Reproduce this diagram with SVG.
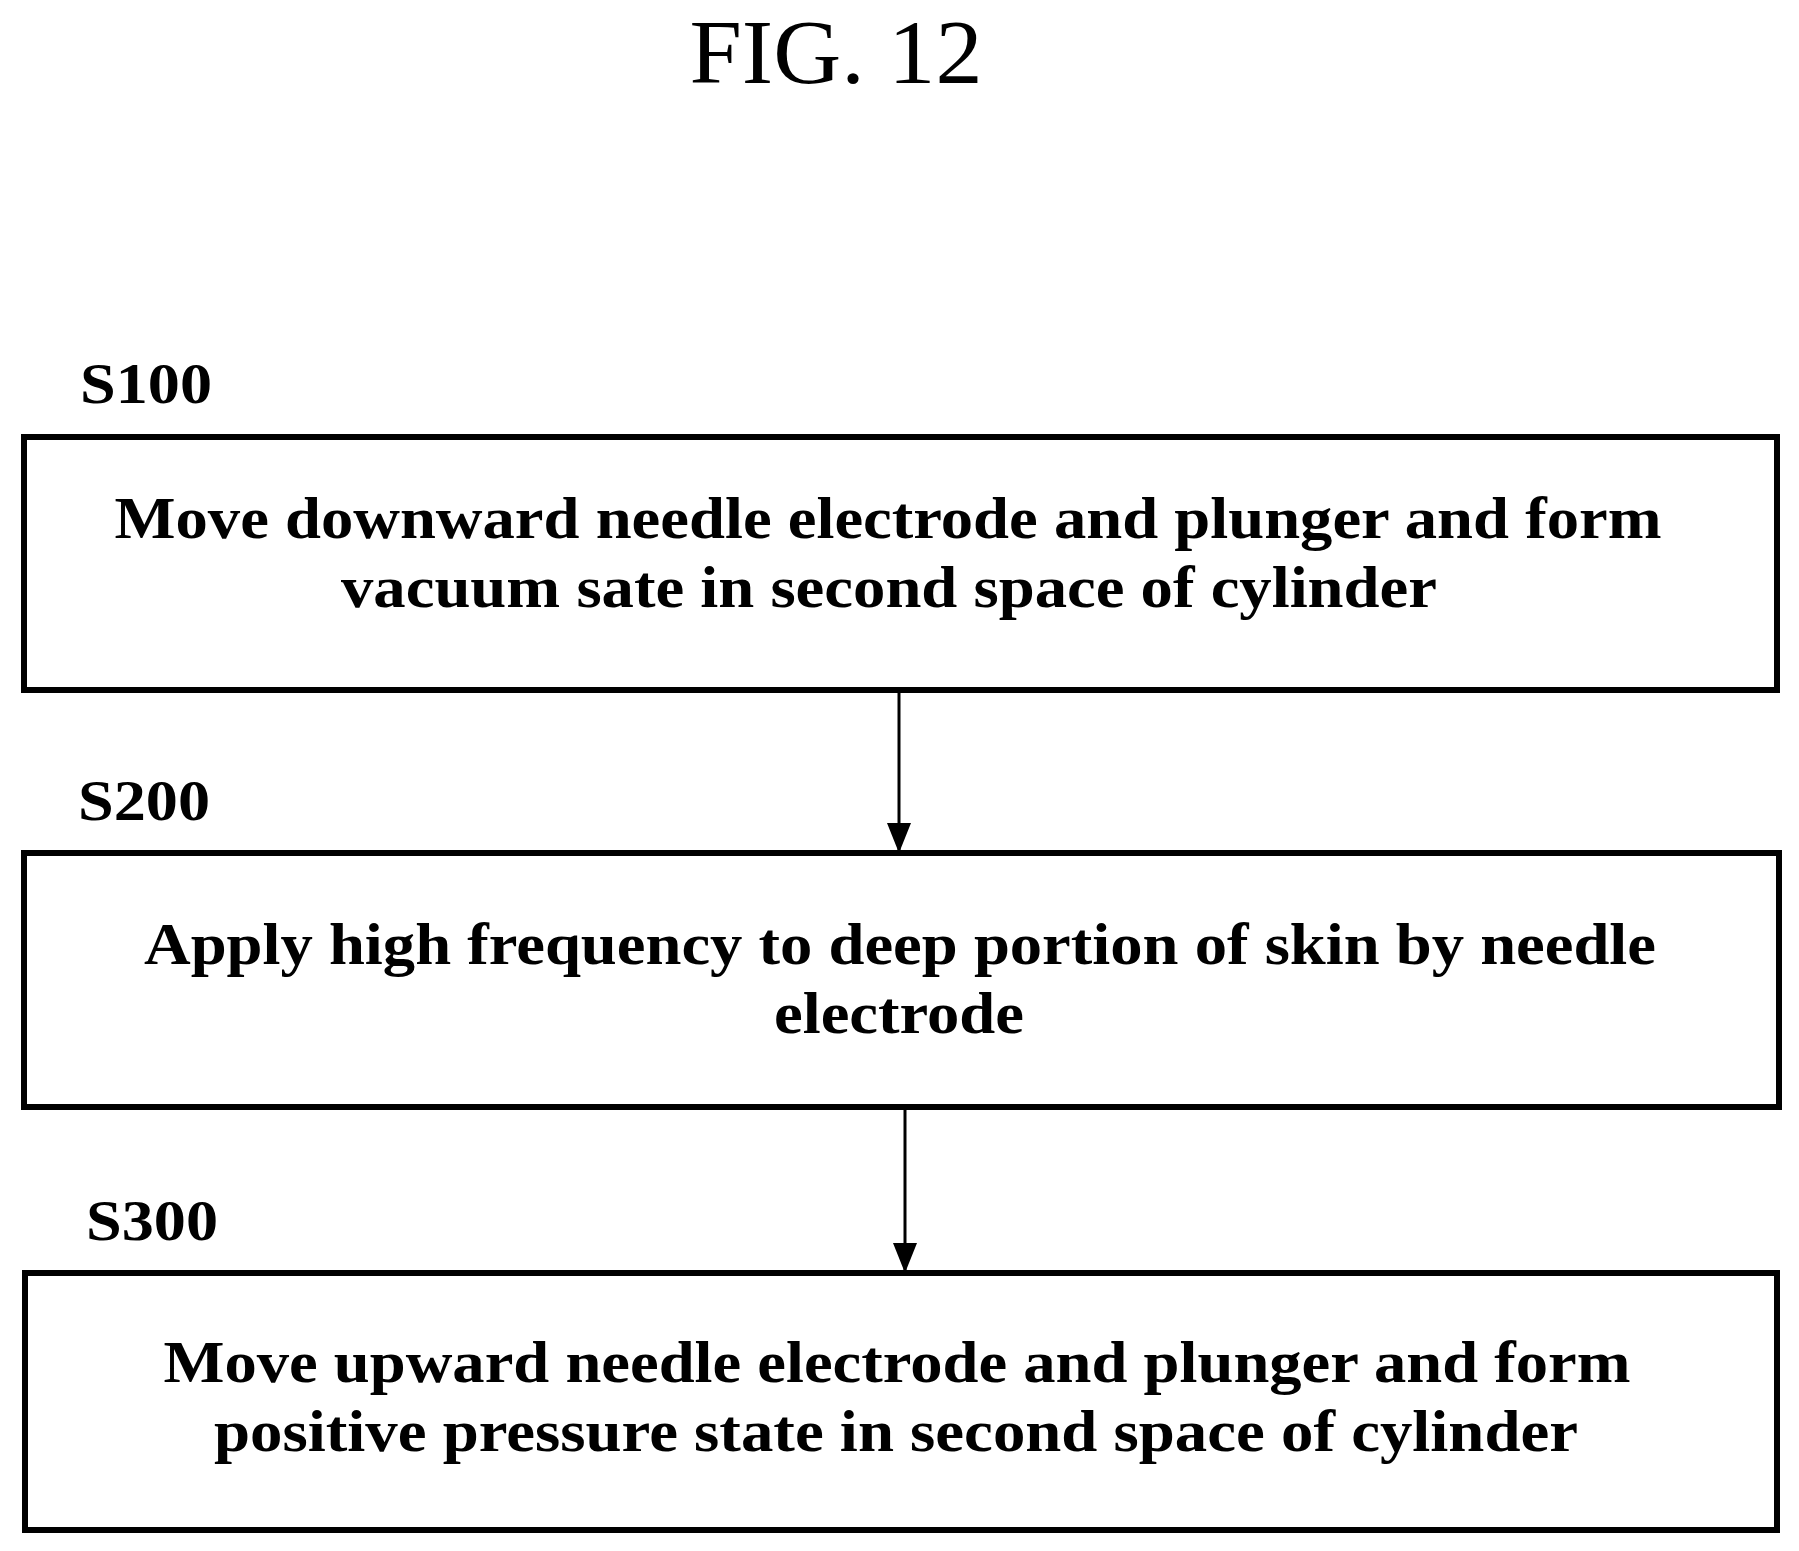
<svg xmlns="http://www.w3.org/2000/svg" width="1799" height="1551" viewBox="0 0 1799 1551">
<style>
text{font-family:"Liberation Serif","Times New Roman",serif;font-weight:bold;fill:#000}
.t{font-size:60px;text-anchor:middle}
.l{font-size:58px}
.b{fill:#fff;stroke:#000;stroke-width:6}
.c{stroke:#000;stroke-width:3;fill:none}
</style>
<defs><marker id="a" markerWidth="10" markerHeight="8" refX="9" refY="4" orient="auto" markerUnits="strokeWidth"><path d="M0,0L10,4L0,8Z" fill="#000"/></marker></defs>
<rect width="1799" height="1551" fill="#fff"/>
<text x="836" y="83" textLength="293" lengthAdjust="spacingAndGlyphs" style="font-size:92px;font-weight:normal;text-anchor:middle">FIG. 12</text>
<g id="s100"><text class="l" x="80" y="403" textLength="132" lengthAdjust="spacingAndGlyphs">S100</text><rect class="b" x="24" y="437" width="1753" height="253"/>
<text class="t" x="888" y="538" textLength="1547" lengthAdjust="spacingAndGlyphs">Move downward needle electrode and plunger and form</text><text class="t" x="889" y="607" textLength="1096" lengthAdjust="spacingAndGlyphs">vacuum sate in second space of cylinder</text></g>
<g id="s200"><text class="l" x="78" y="820" textLength="132" lengthAdjust="spacingAndGlyphs">S200</text><rect class="b" x="24" y="853" width="1755" height="254"/>
<text class="t" x="900" y="964" textLength="1512" lengthAdjust="spacingAndGlyphs">Apply high frequency to deep portion of skin by needle</text><text class="t" x="899" y="1033" textLength="250" lengthAdjust="spacingAndGlyphs">electrode</text></g>
<g id="s300"><text class="l" x="86" y="1240" textLength="132" lengthAdjust="spacingAndGlyphs">S300</text><rect class="b" x="25" y="1273" width="1752" height="257"/>
<text class="t" x="897" y="1382" textLength="1467" lengthAdjust="spacingAndGlyphs">Move upward needle electrode and plunger and form</text><text class="t" x="896" y="1451" textLength="1364" lengthAdjust="spacingAndGlyphs">positive pressure state in second space of cylinder</text></g>
<g id="connectors"><line class="c" x1="899" y1="693" x2="899" y2="850" marker-end="url(#a)"/><line class="c" x1="905" y1="1110" x2="905" y2="1270" marker-end="url(#a)"/></g>
</svg>
